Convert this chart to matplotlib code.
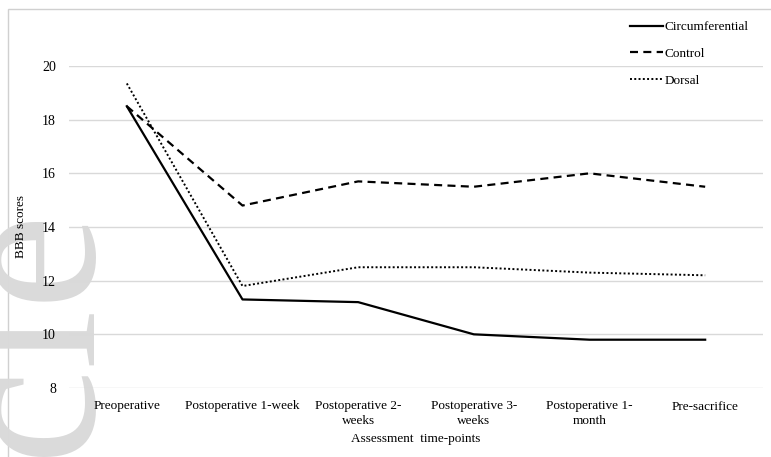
import matplotlib
matplotlib.use('Agg')
import matplotlib.pyplot as plt
import matplotlib.patches as mpatches

plt.rcParams['font.family'] = ['Liberation Serif', 'DejaVu Serif']

# ── Data ──────────────────────────────────────────────────────────────────────
TIMEPOINTS = ['Preoperative', 'Postoperative 1-week', 'Postoperative 2-\nweeks',
              'Postoperative 3-\nweeks', 'Postoperative 1-\nmonth', 'Pre-sacrifice']
circumferential = [18.5, 11.3, 11.2, 10.0, 9.8, 9.8]
control         = [18.5, 14.8, 15.7, 15.5, 16.0, 15.5]
dorsal          = [19.35, 11.8, 12.5, 12.5, 12.3, 12.2]
Y_TICKS = [8, 10, 12, 14, 16, 18, 20]

GRID = '#d9d9d9'
FS = 9.5

fig = plt.figure(figsize=(7.71, 4.57), dpi=100)
fig.patch.set_facecolor('white')

W, H = 771, 457
def fx(px): return px / W
def fy(py): return 1 - py / H

# chart border (cropped on right / bottom)
fig.patches.append(mpatches.Rectangle((fx(8), fy(470)), fx(800) - fx(8), fy(9) - fy(470),
                                      transform=fig.transFigure, fill=False,
                                      edgecolor='#d0d0d0', linewidth=1.0, zorder=-2))

# watermark
fig.text(fx(93), fy(210), 'Article', rotation=90, rotation_mode='anchor',
         ha='right', va='baseline', fontsize=155, color='#dadada', zorder=-1)

ax = fig.add_axes([fx(69), fy(388), fx(763) - fx(69), fy(66) - fy(388)])
ax.set_facecolor('none')

x = list(range(len(TIMEPOINTS)))
ax.plot(x, circumferential, color='black', linewidth=1.6, label='Circumferential')
ax.plot(x, control, color='black', linewidth=1.6, linestyle=(0, (3.6, 2.4)), label='Control')
ax.plot(x, dorsal, color='black', linewidth=1.4, linestyle=(0, (1, 1.2)), label='Dorsal')

ax.set_xlim(-0.5, len(TIMEPOINTS) - 0.5)
ax.set_ylim(8, 20)
ax.set_yticks(Y_TICKS)
ax.set_yticklabels([str(v) for v in Y_TICKS], fontsize=10)
ax.set_xticks(x)
ax.set_xticklabels(TIMEPOINTS, fontsize=FS, linespacing=1.3)
ax.tick_params(axis='both', length=0)
ax.tick_params(axis='y', pad=9.4)
ax.tick_params(axis='x', pad=9)
ax.grid(axis='y', color=GRID, linewidth=1.0)
ax.set_axisbelow(True)
for s in ax.spines.values():
    s.set_visible(False)

ax.set_xlabel('Assessment  time-points', fontsize=FS, labelpad=4)
ax.set_ylabel('BBB scores', fontsize=FS, labelpad=11)

leg = fig.legend(loc='upper left', bbox_to_anchor=(fx(630), fy(21)), frameon=False,
                 fontsize=FS, handlelength=2.5, handletextpad=0.15, labelspacing=1.1,
                 borderpad=0, borderaxespad=0)

fig.savefig('out.png', dpi=100, facecolor='white')
